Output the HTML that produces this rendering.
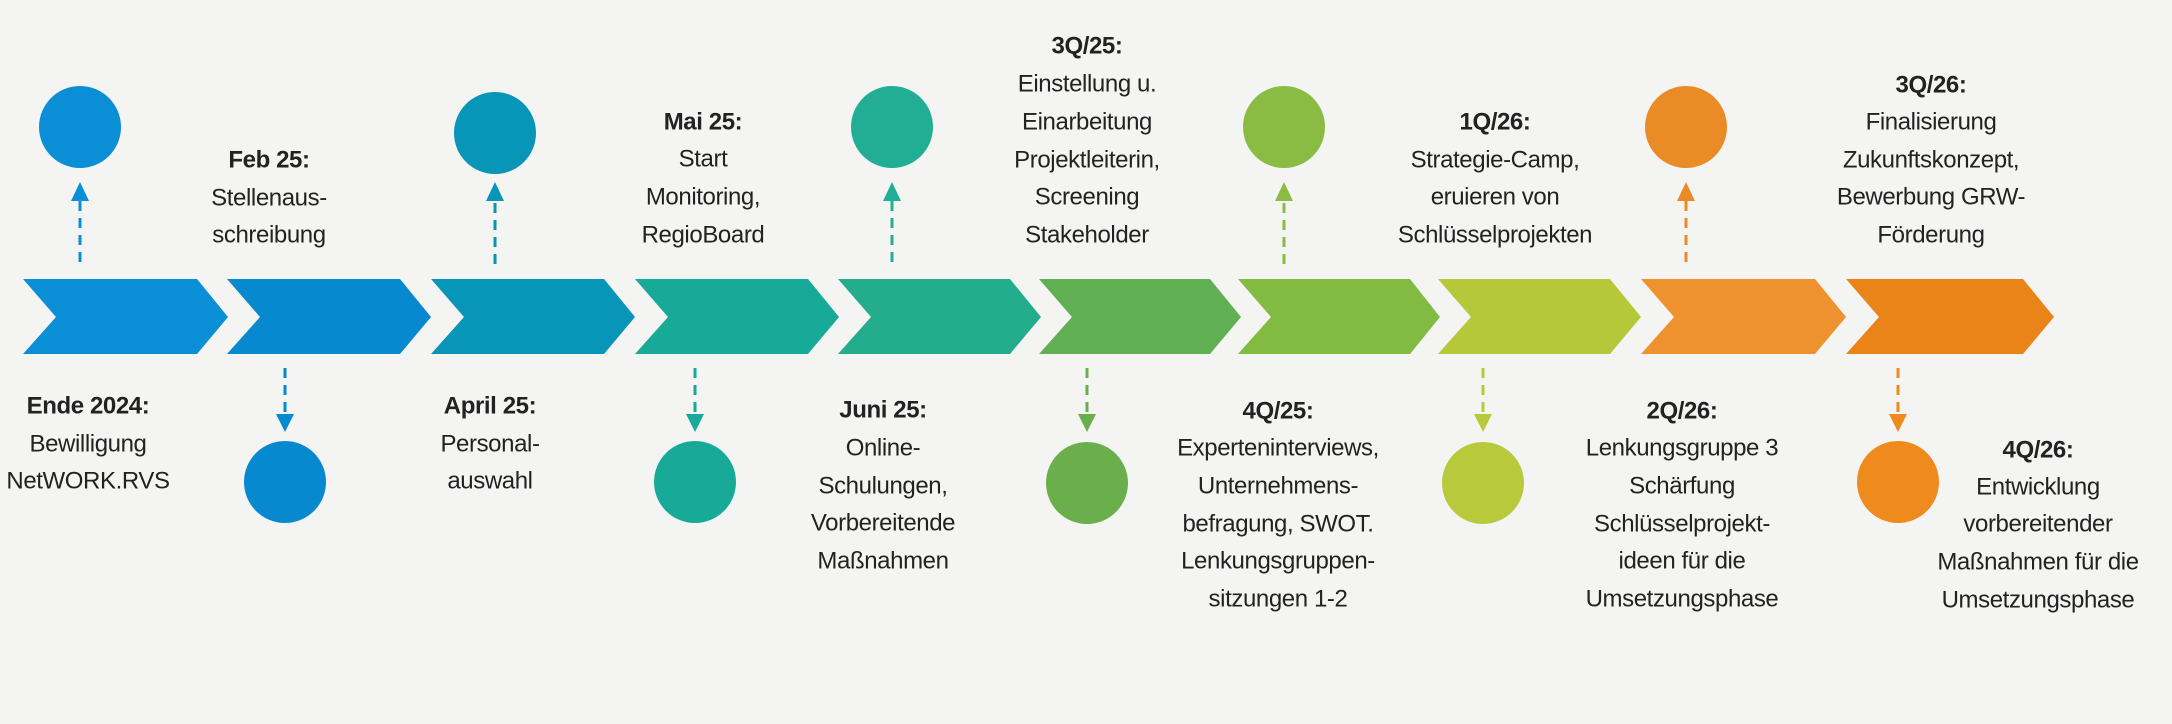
<!DOCTYPE html>
<html><head><meta charset="utf-8"><style>
html,body{margin:0;padding:0;background:#f4f4f3;}
svg{display:block}
text{font-family:"Liberation Sans",sans-serif;font-size:24px;fill:#222;text-anchor:middle;dominant-baseline:central;letter-spacing:-0.4px}
.b{font-weight:bold}
</style></head><body>
<svg width="2172" height="724" viewBox="0 0 2172 724" xmlns="http://www.w3.org/2000/svg">
<rect width="2172" height="724" fill="#f4f4f3"/>
<g>
<polygon points="23,279 197,279 228,317 197,354 23,354 56,317" fill="#0a8fd6"/>
<polygon points="227,279 400,279 431,317 400,354 227,354 260,317" fill="#0789d0"/>
<polygon points="431,279 604,279 635,317 604,354 431,354 464,317" fill="#0795b8"/>
<polygon points="635,279 808,279 839,317 808,354 635,354 668,317" fill="#17aa98"/>
<polygon points="838,279 1010,279 1041,317 1010,354 838,354 871,317" fill="#24ad8d"/>
<polygon points="1039,279 1210,279 1241,317 1210,354 1039,354 1072,317" fill="#60af52"/>
<polygon points="1238,279 1410,279 1440,317 1410,354 1238,354 1271,317" fill="#82bb42"/>
<polygon points="1438,279 1610,279 1641,317 1610,354 1438,354 1471,317" fill="#b4c83a"/>
<polygon points="1641,279 1815,279 1846,317 1815,354 1641,354 1674,317" fill="#ee9230"/>
<polygon points="1846,279 2023,279 2054,317 2023,354 1846,354 1879,317" fill="#ea8418"/>
</g>
<g>
<circle cx="80" cy="127" r="41" fill="#0a8fd6"/>
<circle cx="495" cy="133" r="41" fill="#0795b8"/>
<circle cx="892" cy="127" r="41" fill="#22ae94"/>
<circle cx="1284" cy="127" r="41" fill="#8abc44"/>
<circle cx="1686" cy="127" r="41" fill="#ea8c25"/>
<circle cx="285" cy="482" r="41" fill="#0789d0"/>
<circle cx="695" cy="482" r="41" fill="#17aa98"/>
<circle cx="1087" cy="483" r="41" fill="#6aaf4c"/>
<circle cx="1483" cy="483" r="41" fill="#b8c93c"/>
<circle cx="1898" cy="482" r="41" fill="#ee8b1c"/>
</g>
<g stroke-width="3" stroke-dasharray="10,7">
<line x1="80" y1="262" x2="80" y2="201" stroke="#0a8fd6"/>
<line x1="495" y1="264" x2="495" y2="201" stroke="#0795b8"/>
<line x1="892" y1="262" x2="892" y2="201" stroke="#22ae94"/>
<line x1="1284" y1="264" x2="1284" y2="201" stroke="#8abc44"/>
<line x1="1686" y1="262" x2="1686" y2="201" stroke="#ea8c25"/>
<line x1="285" y1="368" x2="285" y2="416" stroke="#0789d0"/>
<line x1="695" y1="368" x2="695" y2="416" stroke="#17aa98"/>
<line x1="1087" y1="368" x2="1087" y2="416" stroke="#6aaf4c"/>
<line x1="1483" y1="368" x2="1483" y2="416" stroke="#b8c93c"/>
<line x1="1898" y1="368" x2="1898" y2="416" stroke="#ee8b1c"/>
</g>
<g>
<polygon points="80,182 71,201 89,201" fill="#0a8fd6"/>
<polygon points="495,182 486,201 504,201" fill="#0795b8"/>
<polygon points="892,182 883,201 901,201" fill="#22ae94"/>
<polygon points="1284,182 1275,201 1293,201" fill="#8abc44"/>
<polygon points="1686,182 1677,201 1695,201" fill="#ea8c25"/>
<polygon points="285,432 276,414 294,414" fill="#0789d0"/>
<polygon points="695,432 686,414 704,414" fill="#17aa98"/>
<polygon points="1087,432 1078,414 1096,414" fill="#6aaf4c"/>
<polygon points="1483,432 1474,414 1492,414" fill="#b8c93c"/>
<polygon points="1898,432 1889,414 1907,414" fill="#ee8b1c"/>
</g>
<text x="269" y="160" class="b">Feb 25:</text>
<text x="269" y="198">Stellenaus-</text>
<text x="269" y="235">schreibung</text>

<text x="703" y="122" class="b">Mai 25:</text>
<text x="703" y="159">Start</text>
<text x="703" y="197">Monitoring,</text>
<text x="703" y="235">RegioBoard</text>

<text x="1087" y="46" class="b">3Q/25:</text>
<text x="1087" y="84">Einstellung u.</text>
<text x="1087" y="122">Einarbeitung</text>
<text x="1087" y="160">Projektleiterin,</text>
<text x="1087" y="197">Screening</text>
<text x="1087" y="235">Stakeholder</text>

<text x="1495" y="122" class="b">1Q/26:</text>
<text x="1495" y="160">Strategie-Camp,</text>
<text x="1495" y="197">eruieren von</text>
<text x="1495" y="235">Schlüsselprojekten</text>

<text x="1931" y="85" class="b">3Q/26:</text>
<text x="1931" y="122">Finalisierung</text>
<text x="1931" y="160">Zukunftskonzept,</text>
<text x="1931" y="197">Bewerbung GRW-</text>
<text x="1931" y="235">Förderung</text>

<text x="88" y="406" class="b">Ende 2024:</text>
<text x="88" y="444">Bewilligung</text>
<text x="88" y="481">NetWORK.RVS</text>

<text x="490" y="406" class="b">April 25:</text>
<text x="490" y="444">Personal-</text>
<text x="490" y="481">auswahl</text>

<text x="883" y="410" class="b">Juni 25:</text>
<text x="883" y="448">Online-</text>
<text x="883" y="486">Schulungen,</text>
<text x="883" y="523">Vorbereitende</text>
<text x="883" y="561">Maßnahmen</text>

<text x="1278" y="411" class="b">4Q/25:</text>
<text x="1278" y="448">Experteninterviews,</text>
<text x="1278" y="486">Unternehmens-</text>
<text x="1278" y="524">befragung, SWOT.</text>
<text x="1278" y="561">Lenkungsgruppen-</text>
<text x="1278" y="599">sitzungen 1-2</text>

<text x="1682" y="411" class="b">2Q/26:</text>
<text x="1682" y="448">Lenkungsgruppe 3</text>
<text x="1682" y="486">Schärfung</text>
<text x="1682" y="524">Schlüsselprojekt-</text>
<text x="1682" y="561">ideen für die</text>
<text x="1682" y="599">Umsetzungsphase</text>

<text x="2038" y="450" class="b">4Q/26:</text>
<text x="2038" y="487">Entwicklung</text>
<text x="2038" y="524">vorbereitender</text>
<text x="2038" y="562">Maßnahmen für die</text>
<text x="2038" y="600">Umsetzungsphase</text>
</svg>
</body></html>
